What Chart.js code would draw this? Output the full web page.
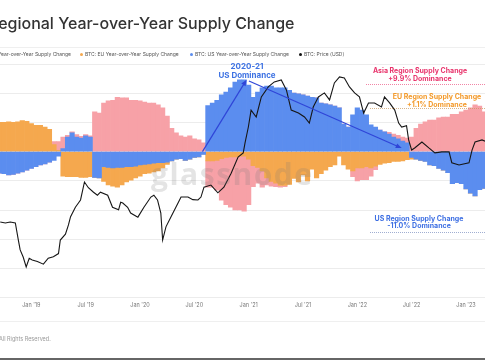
<!DOCTYPE html>
<html lang="en">

<head>
    <meta charset="UTF-8">
    <title>Regional Year-over-Year Supply Change</title>
    <script src="https://cdn.jsdelivr.net/npm/chart.js@4.4.0/dist/chart.umd.min.js"></script>
    <style>
        html, body { margin: 0; padding: 0; background: #fff; }
        body { width: 485px; height: 360px; position: relative; overflow: hidden; font-family: Inter, "Noto Sans", sans-serif; }
        canvas { position: absolute; left: 0; top: 0; }
        .title { position: absolute; left: -12px; top: 13px; font-size: 16px; font-weight: 500; color: #333; white-space: nowrap; }
        .rule { position: absolute; left: 0; width: 485px; height: 1px; background: #efefef; }
        .lg { position: absolute; top: 51px; font-size: 5px; line-height: 6px; color: #555; white-space: nowrap; }
        .lg i { display: inline-block; width: 3px; height: 3px; border-radius: 50%; margin-right: 2px; vertical-align: 0; }
        .note { position: absolute; transform: translateX(-50%); text-align: center; font-weight: 700; white-space: nowrap; }
        .dots { position: absolute; right: 0; height: 0; border-top: 1px dotted; }
        .mark { position: absolute; left: 151px; top: 153px; font-size: 30px; font-weight: 700; letter-spacing: 1.5px; font-family: "Open Sans", sans-serif; color: rgba(120, 120, 120, 0.2); pointer-events: none; }
        .foot { position: absolute; left: -1px; top: 336px; font-size: 5.5px; color: #999; white-space: nowrap; }
    </style>
</head>

<body>
    <canvas id="chart" width="485" height="360"></canvas>

    <div class="title">Regional Year-over-Year Supply Change</div>
    <div class="rule" style="top:47px"></div>
    <div class="lg" style="right:414px"><i style="background:#f7a1a7"></i>BTC: Asia Year-over-Year Supply Change</div>
    <div class="lg" style="left:80px"><i style="background:#f5a84e"></i>BTC: EU Year-over-Year Supply Change</div>
    <div class="lg" style="left:190px"><i style="background:#5b8def"></i>BTC: US Year-over-Year Supply Change</div>
    <div class="lg" style="left:299px"><i style="background:#111"></i>BTC: Price (USD)</div>

    <div class="mark">glassnode</div>

    <div class="note" style="left:247px; top:62px; font-size:8px; line-height:8.5px; color:#3d72e3">2020-21<br>US Dominance</div>
    <div class="note" style="left:420px; top:66.5px; font-size:7px; line-height:8.3px; color:#e8336b">Asia Region Supply Change<br>+9.9% Dominance</div>
    <div class="dots" style="left:366px; top:84px; border-color:rgba(232,51,107,0.6)"></div>
    <div class="note" style="left:437px; top:93px; font-size:7px; line-height:7.5px; color:#f39a2b">EU Region Supply Change<br>+1.1% Dominance</div>
    <div class="dots" style="left:370px; top:108px; border-color:rgba(200,150,90,0.7)"></div>
    <div class="note" style="left:419px; top:214.5px; font-size:7px; line-height:7.7px; color:#3d6fe3">US Region Supply Change<br>-11.0% Dominance</div>
    <div class="dots" style="left:370px; top:231.5px; border-color:rgba(120,140,190,0.7)"></div>

    <div class="rule" style="top:321px"></div>
    <div class="foot">All Rights Reserved.</div>
    <div style="position:absolute; left:0; top:358px; width:485px; height:2px; background:#666"></div>
</body>

<script>
    // half-month bar slots
    const barDates = [
        '2018-09-16', '2018-10-01', '2018-10-16', '2018-11-01', '2018-11-16', '2018-12-01', '2018-12-16',
        '2019-01-01', '2019-01-16', '2019-02-01', '2019-02-16', '2019-03-01', '2019-03-16', '2019-04-01', '2019-04-16',
        '2019-05-01', '2019-05-16', '2019-06-01', '2019-06-16', '2019-07-01', '2019-07-16', '2019-08-01', '2019-08-16',
        '2019-09-01', '2019-09-16', '2019-10-01', '2019-10-16', '2019-11-01', '2019-11-16', '2019-12-01', '2019-12-16',
        '2020-01-01', '2020-01-16', '2020-02-01', '2020-02-16', '2020-03-01', '2020-03-16', '2020-04-01', '2020-04-16',
        '2020-05-01', '2020-05-16', '2020-06-01', '2020-06-16', '2020-07-01', '2020-07-16', '2020-08-01', '2020-08-16',
        '2020-09-01', '2020-09-16', '2020-10-01', '2020-10-16', '2020-11-01', '2020-11-16', '2020-12-01', '2020-12-16',
        '2021-01-01', '2021-01-16', '2021-02-01', '2021-02-16', '2021-03-01', '2021-03-16', '2021-04-01', '2021-04-16',
        '2021-05-01', '2021-05-16', '2021-06-01', '2021-06-16', '2021-07-01', '2021-07-16', '2021-08-01', '2021-08-16',
        '2021-09-01', '2021-09-16', '2021-10-01', '2021-10-16', '2021-11-01', '2021-11-16', '2021-12-01', '2021-12-16',
        '2022-01-01', '2022-01-16', '2022-02-01', '2022-02-16', '2022-03-01', '2022-03-16', '2022-04-01', '2022-04-16',
        '2022-05-01', '2022-05-16', '2022-06-01', '2022-06-16', '2022-07-01', '2022-07-16', '2022-08-01', '2022-08-16',
        '2022-09-01', '2022-09-16', '2022-10-01', '2022-10-16', '2022-11-01', '2022-11-16', '2022-12-01', '2022-12-16',
        '2023-01-01', '2023-01-16', '2023-02-01', '2023-02-16', '2023-03-01'
    ];

    // YoY supply change, %
    const usChange = [
        -3.7, -3.8, -4.0, -3.9, -3.7, -3.5, -3.2,
        -2.9, -2.6, -2.3, -2.1, -1.8, -1.5, -0.8, 0.5, 2.5, 3.2, 2.5, 2.3, 2.7, 2.5, -4.4, -4.5,
        -2.6, -2.7, -2.8, -2.7, -2.7, -2.6, -2.6, -2.5,
        -2.3, -2.2, -2.1, -2.0, -1.9, -1.9, -1.8, -1.6, -1.3, -1.2, -1.5, -1.3, -1.0, -0.9, -0.5, 7.9,
        8.3, 8.8, 9.7, 10.2, 10.9, 11.9, 12.3, 12.3,
        11.4, 9.3, 10.2, 10.9, 11.2, 11.2, 10.9, 10.9, 10.9, 10.5, 10.0, 9.9, 9.7, 9.5, 9.3, 9.2,
        8.3, 8.2, 8.0, 7.8, 7.5, 4.7, 4.2, 6.3,
        7.5, 7.1, 6.3, 4.6, 4.2, 3.7, 3.4, 3.0, 2.5, 2.2, 1.8, 1.5, -1.0, -1.3, -1.5, -1.7,
        -2.3, -2.4, -2.9, -3.2, -3.6, -5.5, -5.3, -5.5,
        -6.4, -7.1, -7.6, -6.5, -6.3
    ];
    const euChange = [
        5.0, 5.0, 5.1, 5.0, 5.1, 5.3, 5.2,
        4.8, 4.5, 4.5, 4.2, 3.8, 1.2, 0.2, -4.2, -4.3, -4.3, -4.3, -4.4, -4.4, -4.3, 0, 0,
        -2.5, -3.0, -3.1, -3.4, -3.0, -2.6, -2.3, -2.0,
        -1.9, -1.6, -1.6, -1.5, -1.4, -0.9, -0.4, 0, 0, 0, 0, 0, 0, 0, 0, -1.6,
        -1.6, -1.5, -1.2, -1.0, -0.9, -0.9, -0.8, -0.8,
        -1.3, -2.4, -2.7, -3.3, -4.5, -5.1, -5.4, -5.8, -5.8, -5.6, -4.6, -5.2, -4.0, -5.0, -3.0, -4.5,
        -3.8, -3.2, -2.6, -2.3, -0.8, -2.3, -3.0, -3.3,
        -2.8, -2.8, -2.6, -2.8, -2.5, -2.2, -2.0, -1.9, -1.7, -1.7, -1.6, -1.4, -0.3, 0, 0, 0,
        0, 0, 0, 0, 0, 0, 0, 0,
        0, 0, 0, 0, 0
    ];
    const asiaChange = [
        0, 0, 0, 0, 0, 0, 0,
        0, 0, 0, 0, 0, 0.5, 1.5, 2.0, 0.3, 0.2, 0.4, 0.3, 0.2, 0.2, 6.8, 6.6,
        8.3, 8.7, 8.8, 9.3, 9.2, 9.2, 8.8, 8.8,
        8.7, 8.5, 8.3, 8.3, 8.0, 7.5, 6.1, 4.0, 3.2, 2.7, 2.5, 2.7, 2.2, 2.0, 1.5, -4.5,
        -4.5, -5.1, -7.1, -8.1, -8.6, -9.1, -9.2, -9.4,
        -7.8, -3.6, -2.7, -2.8, -1.2, -0.8, -0.6, -0.3, -0.2, 0, 0, 0, 0, 0, 0, 0,
        0, 0, 0, 0, 0, 0, 0, -1.0,
        -2.2, -2.0, -2.2, -1.4, -0.6, 0, 0, 0.3, 0.5, 0.6, 0.7, 0.8, 2.5, 4.0, 4.7, 5.1,
        5.4, 5.4, 5.8, 5.9, 5.9, 6.4, 6.4, 6.8,
        7.1, 7.5, 8.0, 7.8, 6.8
    ];

    // BTC price, USD
    const priceDates = [
        '2018-09-18', '2018-10-05', '2018-10-21', '2018-11-08', '2018-11-18', '2018-11-24', '2018-12-04', '2018-12-14', '2018-12-24',
        '2019-01-04', '2019-01-21', '2019-02-11', '2019-02-27', '2019-03-14', '2019-04-01', '2019-04-07', '2019-04-24', '2019-05-04',
        '2019-05-11', '2019-05-27', '2019-06-07', '2019-06-14', '2019-06-27', '2019-07-10', '2019-07-27', '2019-08-10', '2019-08-20',
        '2019-09-14', '2019-09-30', '2019-10-20', '2019-10-27', '2019-11-04', '2019-11-20', '2019-11-30', '2019-12-24',
        '2020-01-14', '2020-02-07', '2020-02-17', '2020-02-29', '2020-03-10', '2020-03-16', '2020-03-27', '2020-04-13', '2020-05-07',
        '2020-05-17', '2020-06-10', '2020-06-26', '2020-07-13', '2020-07-23', '2020-08-03', '2020-08-26', '2020-09-19', '2020-10-09',
        '2020-11-03', '2020-11-26', '2020-12-13', '2020-12-19', '2020-12-30',
        '2021-01-09', '2021-01-26', '2021-02-13', '2021-03-06', '2021-03-26', '2021-04-19', '2021-05-06', '2021-05-22', '2021-06-16',
        '2021-07-06', '2021-07-22', '2021-08-05', '2021-08-22', '2021-09-12', '2021-09-29', '2021-10-15', '2021-11-02', '2021-11-18',
        '2021-12-05', '2021-12-22',
        '2022-01-08', '2022-01-22', '2022-02-08', '2022-02-28', '2022-03-21', '2022-04-01', '2022-04-18', '2022-05-05', '2022-05-18',
        '2022-05-28', '2022-06-14', '2022-06-21', '2022-07-01', '2022-07-11', '2022-08-05', '2022-08-28', '2022-09-18', '2022-10-11',
        '2022-11-05', '2022-11-14', '2022-12-08',
        '2023-01-11', '2023-01-21', '2023-02-01', '2023-02-24', '2023-03-11'
    ];
    const priceValues = [
        7000, 6900, 7000, 6900, 5300, 4550, 4080, 3500, 4000,
        3900, 3800, 3650, 4000, 4100, 4300, 5300, 5800, 6700,
        7600, 8800, 9400, 9850, 13000, 11900, 11100, 10600, 11100,
        10600, 8800, 8450, 9500, 9400, 8800, 8050, 7550,
        8800, 10300, 10600, 9850, 8050, 5300, 6500, 7550, 9400,
        10300, 10300, 9900, 9850, 10300, 12000, 12400, 11000, 12000,
        14900, 19100, 20400, 23800, 30400,
        39500, 35500, 48400, 56500, 61000, 62900, 53900, 39500, 37700,
        35500, 32300, 41400, 48400, 51500, 46200, 60100, 65900, 64900,
        56500, 51500,
        48400, 37700, 44100, 44100, 41400, 48400, 44100, 39500, 32300,
        30400, 31000, 24900, 21300, 22000, 24100, 22000, 20400, 20700,
        20700, 17500, 16900,
        17500, 21300, 24100, 24900, 24100
    ];

    const tickMonths = [0, 6, 12, 18, 24, 30, 36, 42, 48];
    const tickLabels = ["Jan '19", "Jul '19", "Jan '20", "Jul '20", "Jan '21", "Jul '21", "Jan '22", "Jul '22", "Jan '23"];

    // annotation arrows: [date, supply %] -> [date, supply %]
    const arrows = [
        { from: ['2020-07-28', 0], to: ['2020-12-24', 12.3] },
        { from: ['2021-01-02', 12.1], to: ['2022-05-28', 0.6] }
    ];

    // months since Jan 2019
    function monthPos(d) {
        const p = d.split('-').map(Number);
        return (p[0] - 2019) * 12 + (p[1] - 1) + (p[2] - 1) / 30;
    }

    function barSet(label, values, color) {
        return {
            type: 'bar',
            label: label,
            data: barDates.map((d, i) => ({ x: monthPos(d), y: values[i] })),
            backgroundColor: color,
            borderWidth: 0,
            barPercentage: 1,
            categoryPercentage: 1,
            yAxisID: 'y',
            order: 1
        };
    }

    const arrowPlugin = {
        id: 'arrows',
        afterDatasetsDraw(chart) {
            const c = chart.ctx, xs = chart.scales.x, ys = chart.scales.y;
            c.save();
            c.strokeStyle = '#2f45d8';
            c.fillStyle = '#2f45d8';
            c.lineWidth = 1.2;
            arrows.forEach(a => {
                const x1 = xs.getPixelForValue(monthPos(a.from[0])), y1 = ys.getPixelForValue(a.from[1]);
                const x2 = xs.getPixelForValue(monthPos(a.to[0])), y2 = ys.getPixelForValue(a.to[1]);
                const ang = Math.atan2(y2 - y1, x2 - x1);
                c.beginPath();
                c.moveTo(x1, y1);
                c.lineTo(x2 - 4 * Math.cos(ang), y2 - 4 * Math.sin(ang));
                c.stroke();
                c.beginPath();
                c.moveTo(x2, y2);
                c.lineTo(x2 - 6 * Math.cos(ang) + 2.5 * Math.sin(ang), y2 - 6 * Math.sin(ang) - 2.5 * Math.cos(ang));
                c.lineTo(x2 - 6 * Math.cos(ang) - 2.5 * Math.sin(ang), y2 - 6 * Math.sin(ang) + 2.5 * Math.cos(ang));
                c.closePath();
                c.fill();
            });
            c.restore();
        }
    };

    let ctx = document.getElementById('chart');
    var chart = new Chart(ctx, {
        data: {
            datasets: [
                barSet('BTC: US Year-over-Year Supply Change', usChange, '#5b8def'),
                barSet('BTC: EU Year-over-Year Supply Change', euChange, '#f5a84e'),
                barSet('BTC: Asia Year-over-Year Supply Change', asiaChange, '#f7a1a7'),
                {
                    type: 'line',
                    label: 'BTC: Price (USD)',
                    data: priceDates.map((d, i) => ({ x: monthPos(d), y: priceValues[i] })),
                    borderColor: '#161616',
                    borderWidth: 1.1,
                    pointRadius: 0,
                    tension: 0,
                    yAxisID: 'price',
                    order: 0
                }
            ]
        },
        options: {
            responsive: false,
            animation: false,
            layout: { padding: { top: 64, bottom: 44.4, left: 0, right: 0 } },
            plugins: { legend: { display: false }, tooltip: { enabled: false } },
            scales: {
                x: {
                    type: 'linear',
                    min: -3.46,
                    max: 50.1,
                    stacked: true,
                    offset: false,
                    grid: { display: false, drawTicks: false },
                    border: { display: false },
                    afterBuildTicks: a => { a.ticks = tickMonths.map(v => ({ value: v })); },
                    afterFit: a => { a.height = 18; },
                    ticks: {
                        autoSkip: false,
                        maxRotation: 0,
                        padding: 4,
                        color: '#777',
                        font: { family: 'Inter', size: 5.5 },
                        callback: (v, i) => tickLabels[i]
                    }
                },
                y: {
                    stacked: true,
                    min: -25,
                    max: 15,
                    ticks: { display: false, stepSize: 5 },
                    grid: { color: '#ececec', drawTicks: false },
                    border: { display: false },
                    afterFit: a => { a.width = 0; }
                },
                price: {
                    type: 'logarithmic',
                    position: 'right',
                    display: false,
                    min: 2178,
                    max: 80500
                }
            }
        },
        plugins: [arrowPlugin]
    });
</script>

</html>
